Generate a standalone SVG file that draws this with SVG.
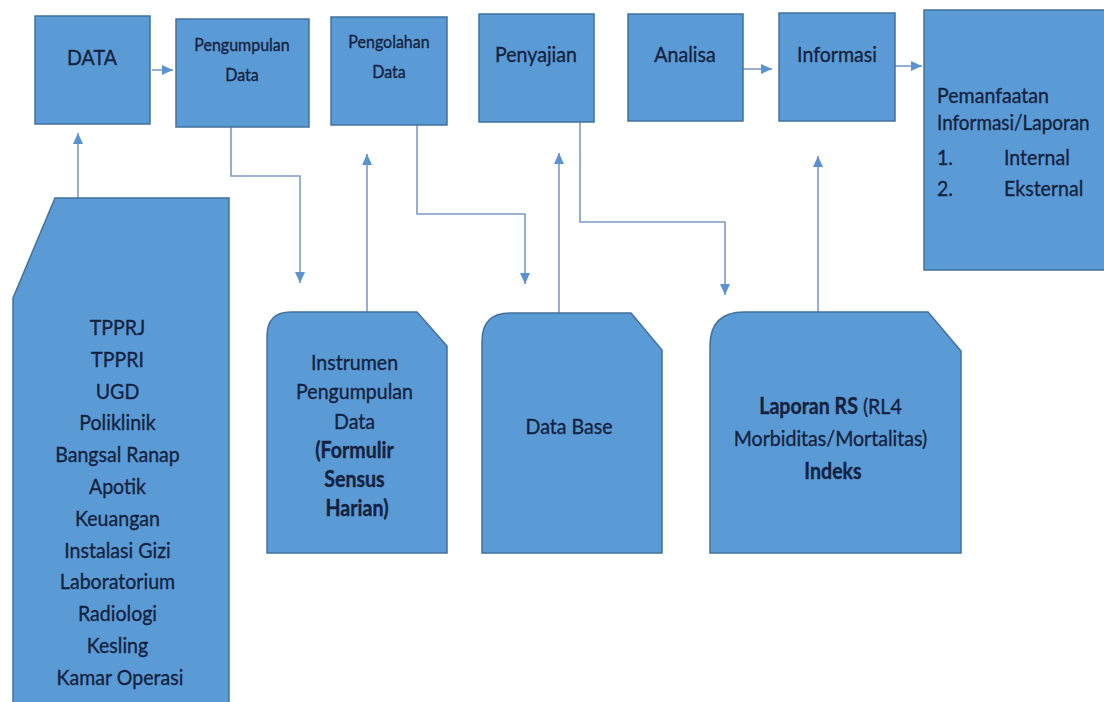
<svg xmlns="http://www.w3.org/2000/svg" width="1104" height="702" viewBox="0 0 1104 702">
  <defs>
    <style>
      .box { fill: #5B9BD5; stroke: #41719C; stroke-width: 1.5; }
      .lbl { font-family: Lato, "Liberation Sans", sans-serif; fill: #14223F; stroke: #14223F; stroke-width: 0.35; font-size: 22px; }
      .c { text-anchor: middle; }
      .sm { font-size: 18px; }
      .b { font-weight: bold; }
      .wire { fill: none; stroke: #7B9CC8; stroke-width: 1.6; }
    </style>
    <marker id="head" markerUnits="userSpaceOnUse" markerWidth="11" markerHeight="10" refX="11" refY="5" orient="auto">
      <path d="M0,0 L11,5 L0,10 Z" fill="#5B93D0"/>
    </marker>
  </defs>

  <rect width="1104" height="702" fill="#FFFFFF"/>

  <!-- connectors -->
  <g id="connectors">
    <path class="wire" d="M152,70 H173" marker-end="url(#head)"/>
    <path class="wire" d="M78,198 V133" marker-end="url(#head)"/>
    <path class="wire" d="M231,127 V176 H300 V283" marker-end="url(#head)"/>
    <path class="wire" d="M367,312 V154" marker-end="url(#head)"/>
    <path class="wire" d="M417,125 V214 H525 V284" marker-end="url(#head)"/>
    <path class="wire" d="M559,313 V153" marker-end="url(#head)"/>
    <path class="wire" d="M580,122 V222 H725 V295" marker-end="url(#head)"/>
    <path class="wire" d="M818,312 V156" marker-end="url(#head)"/>
    <path class="wire" d="M743,69 H772" marker-end="url(#head)"/>
    <path class="wire" d="M895,66 H922" marker-end="url(#head)"/>
  </g>

  <!-- process steps, top row -->
  <g id="data">
    <rect class="box" x="35" y="16" width="115" height="108"/>
    <text class="lbl c" transform="translate(92,65) scale(0.89,1)">DATA</text>
  </g>
  <g id="pengumpulan">
    <rect class="box" x="176" y="19" width="133" height="108"/>
    <text class="lbl c sm" transform="translate(242,51) scale(0.89,1)"><tspan x="0">Pengumpulan</tspan><tspan x="0" dy="30">Data</tspan></text>
  </g>
  <g id="pengolahan">
    <rect class="box" x="331" y="17" width="116" height="108"/>
    <text class="lbl c sm" transform="translate(389,48) scale(0.89,1)"><tspan x="0">Pengolahan</tspan><tspan x="0" dy="30">Data</tspan></text>
  </g>
  <g id="penyajian">
    <rect class="box" x="479" y="14" width="115" height="108"/>
    <text class="lbl c" transform="translate(536,62) scale(0.89,1)">Penyajian</text>
  </g>
  <g id="analisa">
    <rect class="box" x="628" y="14" width="115" height="107"/>
    <text class="lbl c" transform="translate(685,62) scale(0.89,1)">Analisa</text>
  </g>
  <g id="informasi">
    <rect class="box" x="779" y="13" width="116" height="108"/>
    <text class="lbl c" transform="translate(837,62) scale(0.89,1)">Informasi</text>
  </g>
  <g id="pemanfaatan">
    <rect class="box" x="924" y="10" width="182" height="260"/>
    <text class="lbl" transform="translate(937,103) scale(0.89,1)">Pemanfaatan</text>
    <text class="lbl" style="font-size:21px" transform="translate(937,130) scale(0.9,1)">Informasi/Laporan</text>
    <text class="lbl" transform="translate(937,165) scale(0.89,1)">1.</text>
    <text class="lbl" transform="translate(1004,165) scale(0.89,1)">Internal</text>
    <text class="lbl" transform="translate(937,196) scale(0.89,1)">2.</text>
    <text class="lbl" transform="translate(1004,196) scale(0.89,1)">Eksternal</text>
  </g>

  <!-- sources and documents, bottom row -->
  <g id="sumber">
    <path class="box" d="M13,298 L55,198 H229 V712 H13 Z"/>
    <text class="lbl c" transform="translate(120,335) scale(0.89,1)">
      <tspan x="0">TPPRJ</tspan>
      <tspan x="0" dy="31.8">TPPRI</tspan>
      <tspan x="0" dy="31.8">UGD</tspan>
      <tspan x="0" dy="31.8">Poliklinik</tspan>
      <tspan x="0" dy="31.8">Bangsal Ranap</tspan>
      <tspan x="0" dy="31.8">Apotik</tspan>
      <tspan x="0" dy="31.8">Keuangan</tspan>
      <tspan x="0" dy="31.8">Instalasi Gizi</tspan>
      <tspan x="0" dy="31.8">Laboratorium</tspan>
      <tspan x="0" dy="31.8">Radiologi</tspan>
      <tspan x="0" dy="31.8">Kesling</tspan>
      <tspan x="0" dy="31.8">Kamar Operasi</tspan>
    </text>
  </g>
  <g id="instrumen">
    <path class="box" d="M267,553 V336 Q267,312 291,312 H417 L447,346 V553 Z"/>
    <text class="lbl c" transform="translate(357,370) scale(0.89,1)">
      <tspan x="0">Instrumen</tspan>
      <tspan x="0" dy="29.3">Pengumpulan</tspan>
      <tspan x="0" dy="29.3">Data</tspan>
      <tspan x="0" dy="29.3" class="b">(Formulir</tspan>
      <tspan x="0" dy="29.3" class="b">Sensus</tspan>
      <tspan x="0" dy="29.3" class="b">Harian)</tspan>
    </text>
  </g>
  <g id="database">
    <path class="box" d="M482,553 V341 Q482,313 510,313 H631 L662,350 V553 Z"/>
    <text class="lbl c" transform="translate(569,434) scale(0.89,1)">Data Base</text>
  </g>
  <g id="laporan">
    <path class="box" d="M710,553 V346 Q710,312 744,312 H928 L961,351 V553 Z"/>
    <text class="lbl c" transform="translate(833,414) scale(0.89,1)">
      <tspan x="0"><tspan class="b">Laporan RS</tspan> (RL4</tspan>
      <tspan x="0" dy="32.5">Morbiditas/Mortalitas)</tspan>
      <tspan x="0" dy="33" class="b">Indeks</tspan>
    </text>
  </g>
</svg>
